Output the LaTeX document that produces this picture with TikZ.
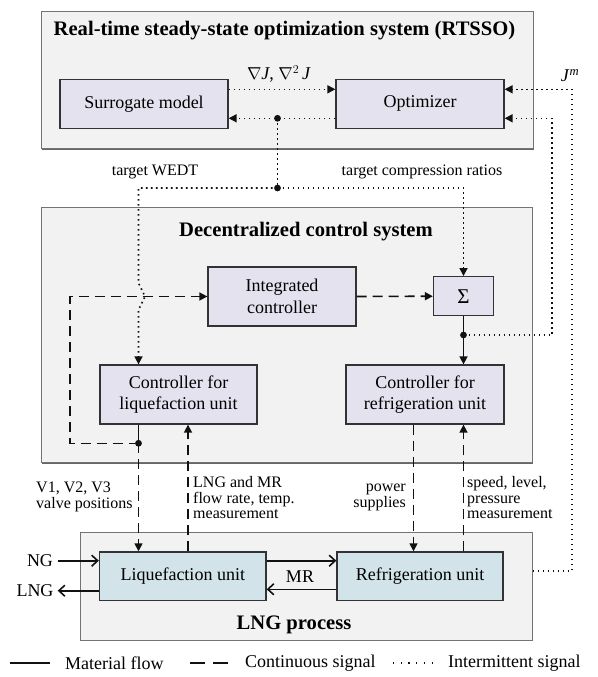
\documentclass[tikz,border=0pt]{standalone}
\usepackage{fontspec}
\setmainfont{Liberation Serif}
\usepackage{tikz}
\usetikzlibrary{arrows.meta}
\usetikzlibrary{positioning}
\usetikzlibrary{shadows}

\definecolor{grpfill}{HTML}{F2F2F2}
\definecolor{blkfill}{HTML}{E4E2EE}
\definecolor{unitfill}{HTML}{D2E4EA}
\definecolor{linecol}{HTML}{111111}

\begin{document}
\begin{tikzpicture}[x=1pt,y=-1pt,
  every node/.style={font=\fontsize{18}{21.5}\selectfont,inner sep=0pt},
  >={Triangle[length=8pt,width=8pt]},
  group/.style={rectangle,draw=black!55,line width=1pt,fill=grpfill,
    drop shadow={shadow xshift=1.3pt,shadow yshift=-1.3pt,fill=black!60,opacity=1}},
  block/.style={rectangle,draw=black!80,line width=1.3pt,fill=blkfill,align=center},
  unit/.style={rectangle,draw=black!80,line width=1.3pt,fill=unitfill,align=center},
  ttl/.style={font=\fontsize{20.6}{24}\selectfont\bfseries},
  lbl/.style={font=\fontsize{16}{15.5}\selectfont},
  flow/.style={draw=linecol,line width=1.6pt},
  cont/.style={draw=linecol,line width=1.6pt,dash pattern=on 10pt off 6pt},
  inter/.style={draw=linecol,line width=1.6pt,dash pattern=on 1.6pt off 3.4pt},
  barb/.style={-{Straight Barb[length=6pt,width=11pt]}},
  junc/.style={fill=linecol}
]
\useasboundingbox (0,0) rectangle (597,677);

\node[group,minimum width=492pt,minimum height=137pt] (rtsso) at (287,80.3) {};
\node[ttl] at (284.5,31) {Real-time steady-state optimization system (RTSSO)};
\node[block,minimum width=168pt,minimum height=49pt] (surr) at (144,103.7) {Surrogate model};
\node[block,minimum width=168pt,minimum height=49pt] (opt) at (420,103.7) {Optimizer};

\node[group,minimum width=491pt,minimum height=255pt] (dcs) at (286.5,335.2) {};
\node[ttl] at (306,232) {Decentralized control system};
\node[block,minimum width=148pt,minimum height=59pt] (integ) at (282,296.5) {Integrated\\controller};
\node[block,minimum width=60pt,minimum height=39pt,font=\fontsize{21}{24}\selectfont] (sig) at (463.5,296.2) {Σ};
\node[block,minimum width=157pt,minimum height=59pt] (cliq) at (178.5,394.5) {Controller for\\liquefaction unit};
\node[block,minimum width=158pt,minimum height=59pt] (cref) at (425,394.5) {Controller for\\refrigeration unit};

\node[group,minimum width=452pt,minimum height=108pt] (lngp) at (306,586) {};
\node[ttl] at (294,625) {LNG process};
\node[unit,minimum width=166.5pt,minimum height=48.7pt] (liq) at (182.75,576.3) {Liquefaction unit};
\node[unit,minimum width=166pt,minimum height=48.7pt] (refu) at (420,576.3) {Refrigeration unit};

\coordinate (u1) at (0,89.3);
\coordinate (j1) at (277.5,118.3);
\coordinate (j2) at (277.5,188);
\coordinate (j3) at (463.5,335);
\coordinate (j4) at (138.5,443.3);
\coordinate (r1) at (552,335);
\coordinate (r2) at (572,570.7);
\coordinate (lp) at (70,296.5);
\coordinate (hop1) at (138.5,283);
\coordinate (hop2) at (145,296.5);
\coordinate (hop3) at (138.5,310);
\coordinate (c1) at (188,0);
\coordinate (c2) at (413.5,0);
\coordinate (m1) at (0,560.7);
\coordinate (m2) at (0,589.3);

\draw[inter,->] (surr.east |- u1) -- (opt.west |- u1)
  node[midway,above=6pt,xshift=-3pt] {$\nabla$\textit{J}, $\nabla^2$\,\textit{J}};
\draw[inter,->] (opt.west |- j1) -- (surr.east |- j1);
\draw[inter] (j1) -- (j2);
\draw[inter,->] (j2) -| (hop1) -- (hop2) -- (hop3) -- (cliq.north -| j4);
\draw[inter,->] (j2) -| (sig.north);
\draw[inter,->] (j3) -- (r1) |- (opt.east |- j1);
\draw[inter,->] (lngp.east |- r2) -- (r2) |- (opt.east |- u1)
  node[pos=0.5,above=7pt,xshift=-2pt] {\textit{J}\textsuperscript{\textit{m}}};
\fill[junc] (j1) circle (3.4pt);
\fill[junc] (j2) circle (3.4pt);

\node[lbl] (twedt) at (155,172) {target WEDT};
\node[lbl] (tcr) at (422,172) {target compression ratios};

\draw[cont,->] (integ.east) -- (sig.west);
\draw[flow,->] (sig.south) -- (cref.north -| sig.south);
\fill[junc] (j3) circle (3.4pt);
\draw[flow] (cliq.south -| j4) -- (j4);
\draw[cont,->] (j4) -| (lp) -- (integ.west);
\draw[cont,->] (j4) -- (liq.north -| j4);
\fill[junc] (j4) circle (3.4pt);
\draw[cont,->] (liq.north -| c1) -- (cliq.south -| c1);
\draw[cont,->] (cref.south -| c2) -- (refu.north -| c2);
\draw[cont,->] (refu.north -| j3) -- (cref.south -| j3);

\node[lbl,align=left,anchor=west] (valve) at (36,497) {V1, V2, V3\\valve positions};
\node[lbl,align=left,anchor=west] (meas1) at (193,498) {LNG and MR\\flow rate, temp.\\measurement};
\node[lbl,align=right,anchor=east] (power) at (406,497.5) {power\\supplies};
\node[lbl,align=left,anchor=west] (meas2) at (467,498) {speed, level,\\pressure\\measurement};

\node (ng) at (40,560.7) {NG};
\node (lngo) at (35,590.7) {LNG};
\node (mr) at (300,577) {MR};
\draw[flow,barb] ([xshift=5pt]ng.east) -- (liq.west |- ng);
\draw[flow,barb] (liq.west |- lngo) -- ([xshift=4pt]lngo.east);
\draw[flow,barb] (liq.east |- m1) -- (refu.west |- m1);
\draw[flow,barb] (refu.west |- m2) -- (liq.east |- m2);

\draw[flow,line width=1.8pt] (10,663) -- (50,663);
\node[anchor=west] (lg1) at (65,663) {Material flow};
\draw[flow,line width=1.8pt,dash pattern=on 15pt off 8pt] (190,663) -- (228,663);
\node[anchor=west] (lg2) at (245,663) {Continuous signal};
\draw[flow,line width=1.1pt,dash pattern=on 1.1pt off 6.6pt] (393,663) -- (433,663);
\node[anchor=west] (lg3) at (448,663) {Intermittent signal};
\end{tikzpicture}
\end{document}
